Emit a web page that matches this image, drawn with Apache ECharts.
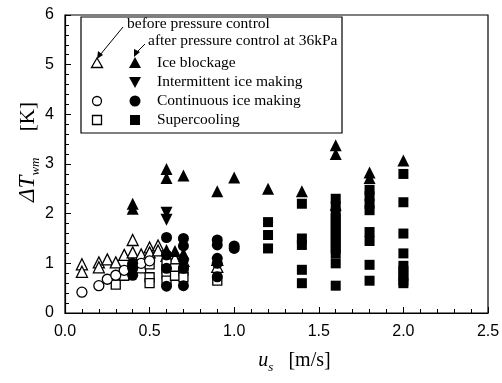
<!DOCTYPE html>
<html><head><meta charset="utf-8">
<script src="https://cdn.jsdelivr.net/npm/echarts@6/dist/echarts.min.js"></script>
<style>html,body{margin:0;padding:0;background:#fff}#c{width:502px;height:383px}</style>
</head><body><div id="c"></div>
<script>
// before pressure control (open markers)
const openTri = [[0.1,0.98],[0.1,0.83],[0.2,1.02],[0.2,0.92],[0.25,1.08],[0.3,1.02],[0.35,1.17],[0.4,1.47],[0.4,1.22],[0.45,1.18],[0.5,1.32],[0.5,1.22],[0.55,1.36],[0.55,1.26],[0.6,1.15],[0.65,1.1],[0.7,1.05],[0.9,1.07],[0.9,0.93]];
const openCircle = [[0.1,0.42],[0.2,0.55],[0.25,0.68],[0.3,0.76],[0.35,0.86],[0.4,0.95],[0.45,1.0],[0.5,1.05]];
const openSquare = [[0.3,0.57],[0.35,0.75],[0.4,0.85],[0.45,0.9],[0.5,0.98],[0.5,0.72],[0.5,0.6],[0.6,1.0],[0.6,0.88],[0.6,0.78],[0.6,0.65],[0.65,0.9],[0.65,0.75],[0.7,0.85],[0.7,0.72],[0.9,0.65]];
// after pressure control at 36kPa (filled markers)
const iceBlockage = [[0.4,2.2],[0.4,2.1],[0.6,2.9],[0.6,2.72],[0.7,2.77],[0.9,2.45],[1.0,2.73],[1.2,2.5],[1.4,2.45],[1.6,3.38],[1.6,3.2],[1.6,2.18],[1.8,2.83],[1.8,2.72],[2.0,3.07],[0.6,1.27],[0.65,1.25],[0.7,1.2]];
const intermittent = [[0.6,2.02],[0.6,1.88]];
const continuous = [[0.4,1.0],[0.4,0.9],[0.4,0.76],[0.6,1.52],[0.6,1.17],[0.6,0.9],[0.6,0.54],[0.7,1.5],[0.7,1.35],[0.7,1.07],[0.7,0.9],[0.7,0.55],[0.9,1.47],[0.9,1.37],[0.9,1.1],[0.9,1.0],[0.9,0.73],[1.0,1.35],[1.0,1.3]];
const supercooling = [[1.2,1.83],[1.2,1.57],[1.2,1.3],
 [1.4,2.2],[1.4,1.5],[1.4,1.37],[1.4,0.87],[1.4,0.6],
 [1.6,2.3],[1.6,2.15],[1.6,2.0],[1.6,1.9],[1.6,1.8],[1.6,1.7],[1.6,1.6],[1.6,1.5],[1.6,1.4],[1.6,1.3],[1.6,1.2],[1.6,1.0],[1.6,0.55],
 [1.8,2.48],[1.8,2.35],[1.8,2.2],[1.8,2.07],[1.8,1.63],[1.8,1.45],[1.8,0.97],[1.8,0.65],
 [2.0,2.8],[2.0,2.23],[2.0,1.6],[2.0,1.2],[2.0,0.95],[2.0,0.85],[2.0,0.75],[2.0,0.65],[2.0,0.6]];
const xTicks = [0,0.5,1.0,1.5,2.0,2.5];
const yTicks = [0,1,2,3,4,5,6];
const legendLabels = ['Ice blockage','Intermittent ice making','Continuous ice making','Supercooling'];
const noteBefore = 'before pressure control';
const noteAfter = 'after pressure control at 36kPa';

const serif = '"Liberation Serif", "Times New Roman", serif';
const sans = '"Liberation Sans", Arial, sans-serif';
const openStyle = {color:'#fff', borderColor:'#000', borderWidth:1.3, opacity:1};
const fillStyle = {color:'#000', opacity:1};

const chart = echarts.init(document.getElementById('c'));
function sc(data, symbol, size, style, rotate){
  return {type:'scatter', data, symbol, symbolSize:size, symbolRotate:rotate||0, itemStyle:style, silent:true, animation:false};
}
const lx1 = 97, lx2 = 135, ltx = 157;
const rows = [63, 82, 101, 120];
const lf = '15.5px ' + serif;
const g = [
  {type:'rect', shape:{x:81,y:17,width:261,height:116}, style:{fill:'#fff',stroke:'#000',lineWidth:1.2}, z:10},
  {type:'text', x:127, y:24, style:{text:noteBefore, font:lf, fill:'#000', verticalAlign:'middle'}, z:11},
  {type:'text', x:148, y:41, style:{text:noteAfter, font:lf, fill:'#000', verticalAlign:'middle'}, z:11},
  {type:'line', shape:{x1:123,y1:27,x2:100,y2:55}, style:{stroke:'#000',lineWidth:1}, z:11},
  {type:'polygon', shape:{points:[[97,59],[98,51],[103,55]]}, style:{fill:'#000'}, z:11},
  {type:'line', shape:{x1:145,y1:44,x2:137,y2:52}, style:{stroke:'#000',lineWidth:1}, z:11},
  {type:'polygon', shape:{points:[[134,57],[134,49],[140,52]]}, style:{fill:'#000'}, z:11},
  // row markers
  {type:'polygon', shape:{points:[[lx1,rows[0]-5],[lx1-5.5,rows[0]+4.5],[lx1+5.5,rows[0]+4.5]]}, style:{fill:'#fff',stroke:'#000',lineWidth:1.3}, z:11},
  {type:'polygon', shape:{points:[[lx2,rows[0]-6],[lx2-6,rows[0]+5],[lx2+6,rows[0]+5]]}, style:{fill:'#000'}, z:11},
  {type:'polygon', shape:{points:[[lx2,rows[1]+6],[lx2-6,rows[1]-5],[lx2+6,rows[1]-5]]}, style:{fill:'#000'}, z:11},
  {type:'circle', shape:{cx:lx1,cy:rows[2],r:4.5}, style:{fill:'#fff',stroke:'#000',lineWidth:1.3}, z:11},
  {type:'circle', shape:{cx:lx2,cy:rows[2],r:5.5}, style:{fill:'#000'}, z:11},
  {type:'rect', shape:{x:lx1-4.5,y:rows[3]-4.5,width:9,height:9}, style:{fill:'#fff',stroke:'#000',lineWidth:1.3}, z:11},
  {type:'rect', shape:{x:lx2-5,y:rows[3]-5,width:10,height:10}, style:{fill:'#000'}, z:11}
];
legendLabels.forEach((t,i)=>{
  g.push({type:'text', x:ltx, y:rows[i], style:{text:t, font:lf, fill:'#000', verticalAlign:'middle'}, z:11});
});

chart.setOption({
  animation:false,
  backgroundColor:'#fff',
  grid:{left:65, right:14, top:15, bottom:70, containLabel:false, outerBoundsMode:'none', show:true, borderColor:'#000', borderWidth:1.2, backgroundColor:'transparent'},
  xAxis:{type:'value', min:0, max:2.5, interval:0.5,
    axisLine:{show:true, onZero:false, lineStyle:{color:'#000', width:1.2}},
    axisTick:{show:true, inside:true, length:6, lineStyle:{color:'#000'}},
    minorTick:{show:true, splitNumber:5, length:4, lineStyle:{color:'#000'}},
    splitLine:{show:false},
    axisLabel:{color:'#000', fontFamily:sans, fontSize:16, margin:11, formatter:v=>v.toFixed(1)},
    name:'{i|u}{s|s}{n|   [m/s]}', nameLocation:'middle', nameGap:34,
    nameTextStyle:{rich:{
      i:{fontFamily:serif, fontStyle:'italic', fontSize:20, color:'#000', lineHeight:24, verticalAlign:'bottom', padding:[0,0,0,36]},
      s:{fontFamily:serif, fontStyle:'italic', fontSize:13, color:'#000', lineHeight:24, verticalAlign:'bottom', padding:[0,0,-3,0]},
      n:{fontFamily:serif, fontSize:20, color:'#000', lineHeight:24, verticalAlign:'bottom'}}}
  },
  yAxis:{type:'value', min:0, max:6, interval:1,
    axisLine:{show:true, onZero:false, lineStyle:{color:'#000', width:1.2}},
    axisTick:{show:true, inside:true, length:6, lineStyle:{color:'#000'}},
    minorTick:{show:true, splitNumber:5, length:4, lineStyle:{color:'#000'}},
    splitLine:{show:false},
    axisLabel:{color:'#000', fontFamily:sans, fontSize:16, margin:11},
    name:'{i|ΔT}{s|wm}{n|     [K]}', nameLocation:'middle', nameGap:26, nameRotate:90, nameMoveOverlap:false,
    nameTextStyle:{rich:{
      i:{fontFamily:serif, fontStyle:'italic', fontSize:23, color:'#000', lineHeight:26, verticalAlign:'bottom', padding:[0,0,0,24]},
      s:{fontFamily:serif, fontStyle:'italic', fontSize:13, color:'#000', lineHeight:26, verticalAlign:'bottom', padding:[0,0,-3,0]},
      n:{fontFamily:serif, fontSize:21, color:'#000', lineHeight:26, verticalAlign:'bottom'}}}
  },
  series:[
    sc(openTri,'triangle',11,openStyle),
    sc(openSquare,'rect',9,openStyle),
    sc(openCircle,'circle',10,openStyle),
    sc(iceBlockage,'triangle',12,fillStyle),
    sc(intermittent,'triangle',12,fillStyle,180),
    sc(continuous,'circle',11,fillStyle),
    sc(supercooling,'rect',10,fillStyle)
  ],
  graphic:g
});
</script></body></html>
